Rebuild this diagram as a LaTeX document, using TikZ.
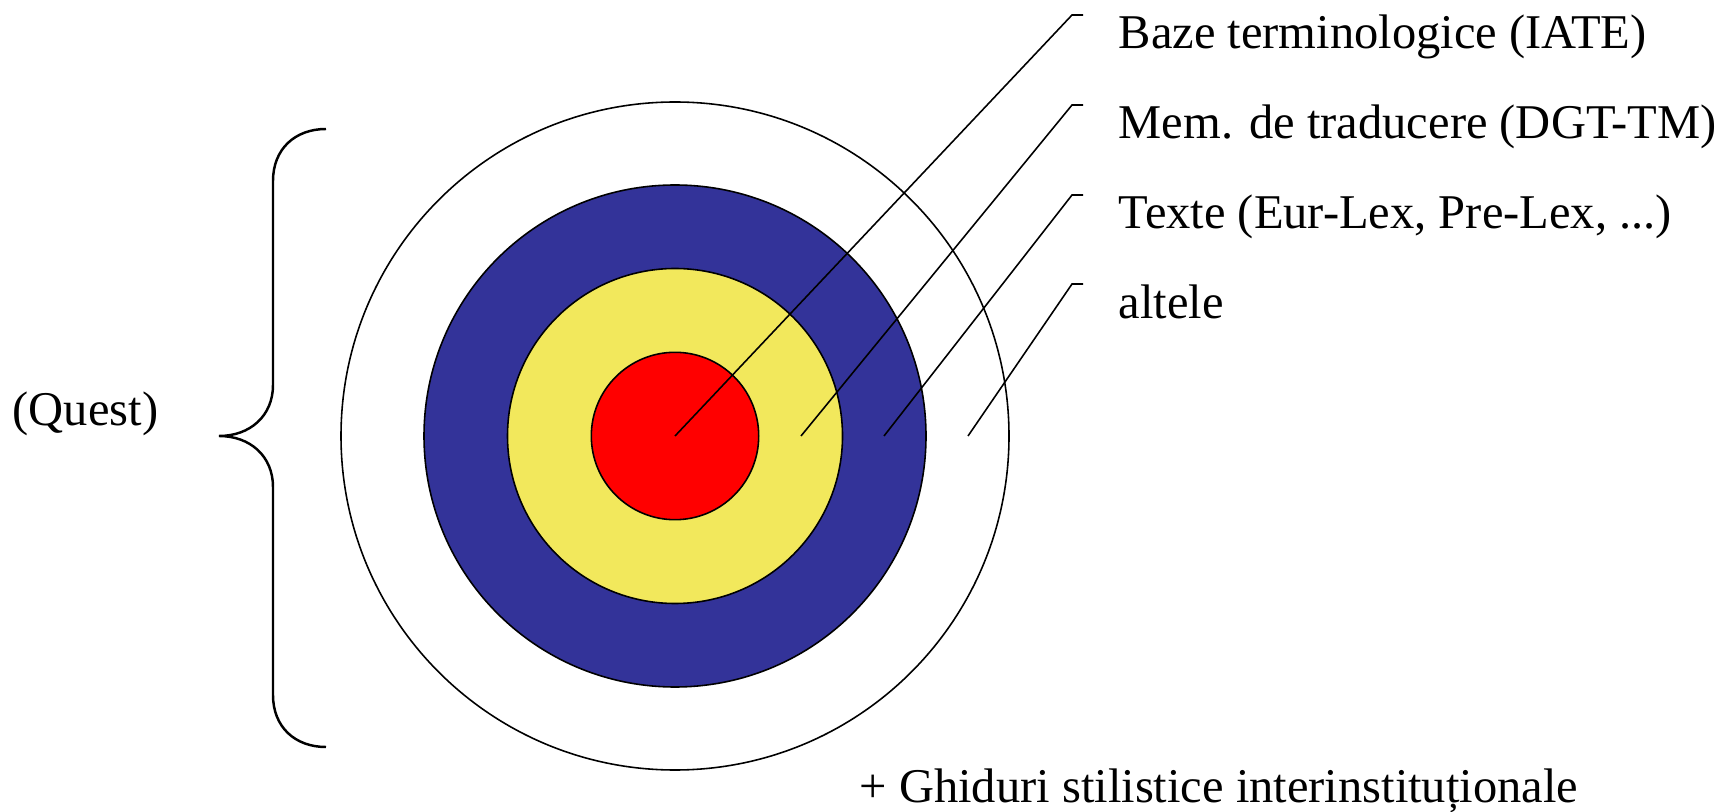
\documentclass[tikz,border=0pt]{standalone}
\usepackage{fontspec}
\setmainfont{Liberation Serif}
\definecolor{tblue}{RGB}{51,51,153}
\definecolor{tyellow}{RGB}{242,232,92}
\begin{document}
\begin{tikzpicture}[font=\fontsize{13.8}{16}\selectfont,ring/.style={draw=black,line width=.45pt},lbl/.style={anchor=base west,inner sep=0pt}]
\useasboundingbox (0,0) rectangle (17.15,8.11);
\coordinate (c) at (6.75,3.75);
\draw[ring,fill=white](c)circle(3.34);\draw[ring,fill=tblue](c)circle(2.51);
\draw[ring,fill=tyellow](c)circle(1.675);\draw[ring,fill=red](c)circle(.837);
% leader lines
\coordinate (p1) at (c);\coordinate (p2) at (8.01,3.75);\coordinate (p3) at (8.84,3.75);\coordinate (p4) at (9.68,3.75);
\coordinate (t1) at (10.72,7.96);\coordinate (t2) at (10.72,7.06);\coordinate (t3) at (10.72,6.16);\coordinate (t4) at (10.72,5.27);
\draw[line width=.45pt](p1)--(t1)--++(.11,0);\draw[line width=.45pt](p2)--(t2)--++(.11,0);
\draw[line width=.45pt](p3)--(t3)--++(.11,0);\draw[line width=.45pt](p4)--(t4)--++(.11,0);
\node[lbl] (iate) at (11.18,7.62){Baze terminologice (IATE)};
\node[lbl] (dgt) at (11.18,6.72){Mem. de traducere (DGT-TM)};
\node[lbl] (texte) at (11.18,5.82){Texte (Eur-Lex, Pre-Lex, ...)};
\node[lbl] (altele) at (11.18,4.92){altele};
% acolada
\draw[line width=.7pt](3.26,6.82) .. controls (2.95,6.82) and (2.73,6.62) .. (2.73,6.30)--(2.73,4.26) .. controls (2.73,3.95) and (2.50,3.75) .. (2.19,3.75)
 .. controls (2.50,3.75) and (2.73,3.55) .. (2.73,3.24)--(2.73,1.16) .. controls (2.73,.84) and (2.95,.64) .. (3.26,.64);
\node[lbl] (quest) at (.12,3.85){(Quest)};
\node[lbl] (ghid) at (8.59,.09){+ Ghiduri stilistice interinstituționale};
\end{tikzpicture}
\end{document}
